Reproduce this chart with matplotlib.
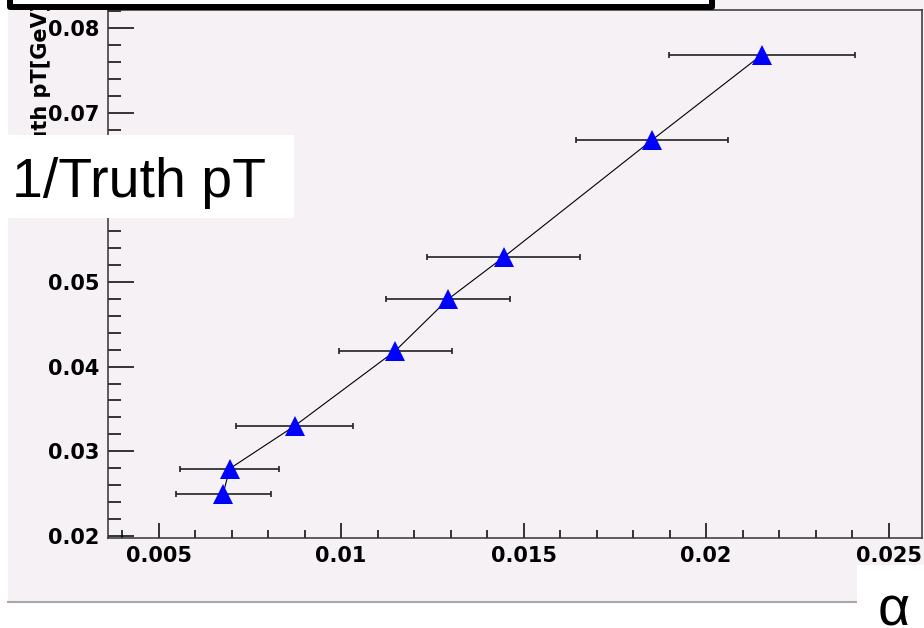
import matplotlib.pyplot as plt
from matplotlib.patches import Rectangle
from matplotlib.lines import Line2D
from matplotlib.ticker import MultipleLocator

# ------------------------------------------------------------
# Data (alpha vs 1/truth pT)
# ------------------------------------------------------------

alpha = [0.00677, 0.00695, 0.00873, 0.01149, 0.01293, 0.01445, 0.01852, 0.02152]
alpha_err = [0.00130, 0.00135, 0.00160, 0.00156, 0.00171, 0.00209, 0.00209, 0.00255]
inv_pt = [0.0250, 0.02795, 0.0330, 0.04188, 0.04796, 0.05292, 0.06677, 0.07681]

x_ticks = [0.005, 0.01, 0.015, 0.02, 0.025]
x_tick_labels = ["0.005", "0.01", "0.015", "0.02", "0.025"]
y_ticks = [0.02, 0.03, 0.04, 0.05, 0.06, 0.07, 0.08]
y_tick_labels = ["0.02", "0.03", "0.04", "0.05", "0.06", "0.07", "0.08"]

W, H = 924, 628
PAD_COLOR = "#f5f1f5"


def fx(px):
    return px / W


def fy(py):
    # pixel measured from top edge
    return 1 - py / H


def box(x0, y0, x1, y1, **kw):
    return Rectangle((fx(x0), fy(y1)), (x1 - x0) / W, (y1 - y0) / H,
                     transform=fig.transFigure, **kw)


fig = plt.figure(figsize=(W / 100, H / 100), dpi=100, facecolor="white")

# pad background and its bottom shadow line
fig.add_artist(box(8, 0, 924, 601, facecolor=PAD_COLOR, edgecolor="none", zorder=-5))
fig.add_artist(Line2D([fx(8), fx(924)], [fy(602), fy(602)], transform=fig.transFigure,
                      color="#aaaaaa", lw=1.5, zorder=-4))

# ------------------------------------------------------------
# Main axes
# ------------------------------------------------------------

ax = fig.add_axes([fx(107.5), fy(538), (921.5 - 107.5) / W, (538 - 10) / H])
ax.set_facecolor(PAD_COLOR)

ax.plot(alpha, inv_pt, color="black", lw=0.8, zorder=2)
ax.errorbar(alpha, inv_pt, xerr=alpha_err, fmt="none", ecolor="#222222",
            elinewidth=1.2, capsize=2, capthick=1.2, zorder=3)
ax.plot(alpha, inv_pt, linestyle="none", marker="^", markersize=14.5,
        color="#0000ff", markeredgewidth=0, zorder=4)

ax.set_xlim(0.003602, 0.0259)
ax.set_ylim(0.01976, 0.08212)

ax.set_xticks(x_ticks)
ax.set_xticklabels(x_tick_labels)
ax.set_yticks(y_ticks)
ax.set_yticklabels(y_tick_labels)
ax.xaxis.set_minor_locator(MultipleLocator(0.001))
ax.yaxis.set_minor_locator(MultipleLocator(0.002))

ax.tick_params(axis="x", which="major", direction="in", length=11, width=1.1,
               pad=6, labelsize=15, top=False)
ax.tick_params(axis="x", which="minor", direction="in", length=5.5, width=1.1, top=False)
ax.tick_params(axis="y", which="major", direction="in", length=19, width=1.1,
               pad=6, labelsize=15, right=False)
ax.tick_params(axis="y", which="minor", direction="in", length=9.5, width=1.1, right=False)
for lab in ax.get_xticklabels() + ax.get_yticklabels():
    lab.set_fontweight("bold")

for side in ["left", "bottom", "top", "right"]:
    ax.spines[side].set_color("#333333")
    ax.spines[side].set_linewidth(1.1)

# original axis titles (partly hidden by overlay boxes)
fig.text(fx(41), fy(2), "1/Truth pT[GeV]", rotation=90, ha="center", va="top",
         fontsize=15, fontweight="bold", zorder=1)
fig.text(fx(921), fy(583), "alpha", ha="right", va="center",
         fontsize=15, fontweight="bold", zorder=1)

# ------------------------------------------------------------
# Overlays: title box and white labels on top
# ------------------------------------------------------------

fig.add_artist(box(9.5, -20, 711.5, 7, facecolor="white", edgecolor="black",
                   lw=4.3, joinstyle="round", zorder=5))

fig.add_artist(box(8, 135, 294, 218, facecolor="white", edgecolor="none", zorder=5))
fig.text(fx(12), fy(197), "1/Truth pT", ha="left", va="baseline", fontsize=40,
         family="Liberation Sans", zorder=6)

fig.add_artist(box(857, 565, 924, 628, facecolor="white", edgecolor="none", zorder=5))
fig.text(fx(894), fy(626), "α", ha="center", va="baseline", fontsize=40,
         family="Liberation Sans", zorder=6)

fig.savefig("out.png", dpi=100, facecolor="white")
